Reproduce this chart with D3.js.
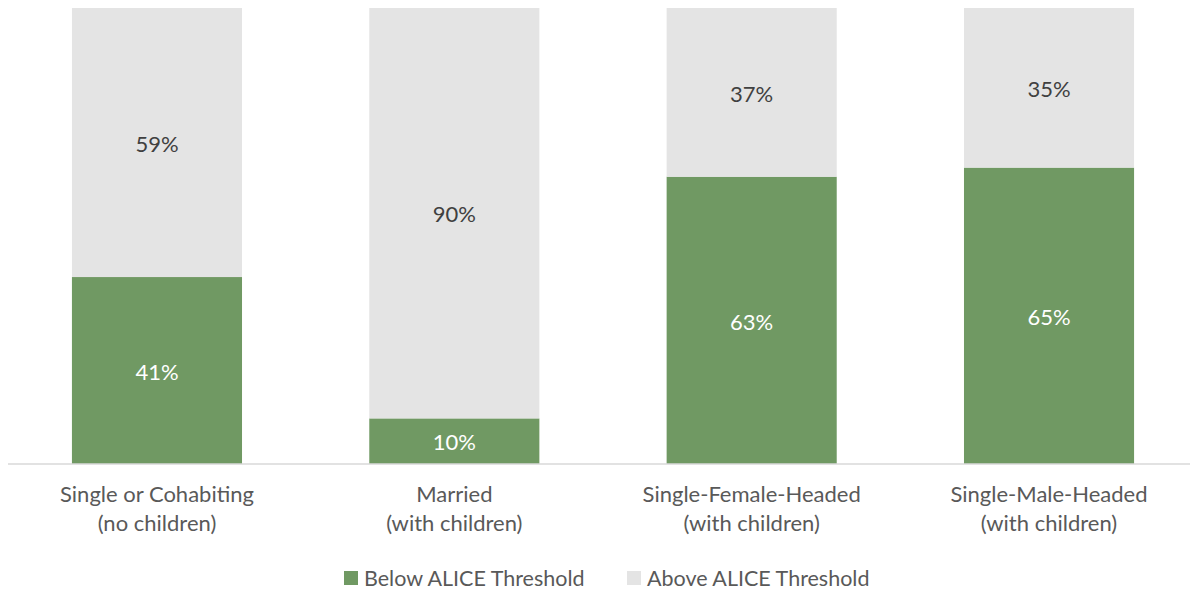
<!DOCTYPE html>
<html>
<head>
<meta charset="utf-8">
<script src="https://cdn.jsdelivr.net/npm/d3@7"></script>
<style>
  body { margin: 0; background: #fff; }
  svg text { font-family: Lato, "Open Sans", sans-serif; }
</style>
</head>
<body>
<svg id="chart"></svg>
<script>
const categories = [
  ['Single or Cohabiting', '(no children)'],
  ['Married', '(with children)'],
  ['Single-Female-Headed', '(with children)'],
  ['Single-Male-Headed', '(with children)']
]
const below = [41, 10, 63, 65]
const above = [59, 90, 37, 35]
const seriesNames = ['Below ALICE Threshold', 'Above ALICE Threshold']
const colors = ['#709963', '#e4e4e4']

const width = 1190, height = 591

const svg = d3.select('#chart').attr('width', width).attr('height', height)

const x = d3.scaleBand()
  .domain(d3.range(categories.length))
  .range([8.3, 1197.7])
  .paddingInner(0.428)
  .paddingOuter(0.214)

const y = d3.scaleLinear().domain([0, 100]).range([464, 8])

const rows = categories.map((c, i) => ({ i, below: below[i], above: above[i] }))
const stack = d3.stack().keys(['below', 'above'])(rows)

stack.forEach((layer, k) => {
  svg.append('g').selectAll('rect')
    .data(layer)
    .enter()
    .append('rect')
    .attr('x', d => x(d.data.i))
    .attr('width', x.bandwidth())
    .attr('y', d => y(d[1]))
    .attr('height', d => y(d[0]) - y(d[1]))
    .attr('fill', colors[k])

  svg.append('g').selectAll('text')
    .data(layer)
    .enter()
    .append('text')
    .attr('x', d => x(d.data.i) + x.bandwidth() / 2)
    .attr('y', d => (y(d[0]) + y(d[1])) / 2 + 1.5)
    .attr('dy', '0.35em')
    .attr('text-anchor', 'middle')
    .attr('font-size', '22px')
    .attr('fill', k === 0 ? '#ffffff' : '#404040')
    .text(d => (d[1] - d[0]) + '%')
})

// axis line
svg.append('line')
  .attr('x1', 8).attr('x2', width)
  .attr('y1', y(0)).attr('y2', y(0))
  .attr('stroke', '#d9d9d9').attr('stroke-width', 1.5)

// category labels
const lab = svg.append('g').selectAll('text')
  .data(categories)
  .enter()
  .append('text')
  .attr('text-anchor', 'middle')
  .attr('font-size', '22px')
  .attr('fill', '#595959')
  .attr('x', (d, i) => x(i) + x.bandwidth() / 2)
  .attr('y', 494)

lab.selectAll('tspan')
  .data(d => d)
  .enter()
  .append('tspan')
  .attr('x', function () { return this.parentNode.getAttribute('x') })
  .attr('dy', (d, j) => j === 0 ? '0.35em' : '29px')
  .text(d => d)

// legend
const legendX = [344, 627]
const legend = svg.append('g').selectAll('g')
  .data(seriesNames)
  .enter()
  .append('g')
  .attr('transform', (d, i) => 'translate(' + legendX[i] + ',578)')

legend.append('rect')
  .attr('x', 0).attr('y', -7)
  .attr('width', 14).attr('height', 14)
  .attr('fill', (d, i) => colors[i])

legend.append('text')
  .attr('x', 20)
  .attr('dy', '0.35em')
  .attr('font-size', '21.5px')
  .attr('fill', '#595959')
  .text(d => d)
</script>
</body>
</html>
